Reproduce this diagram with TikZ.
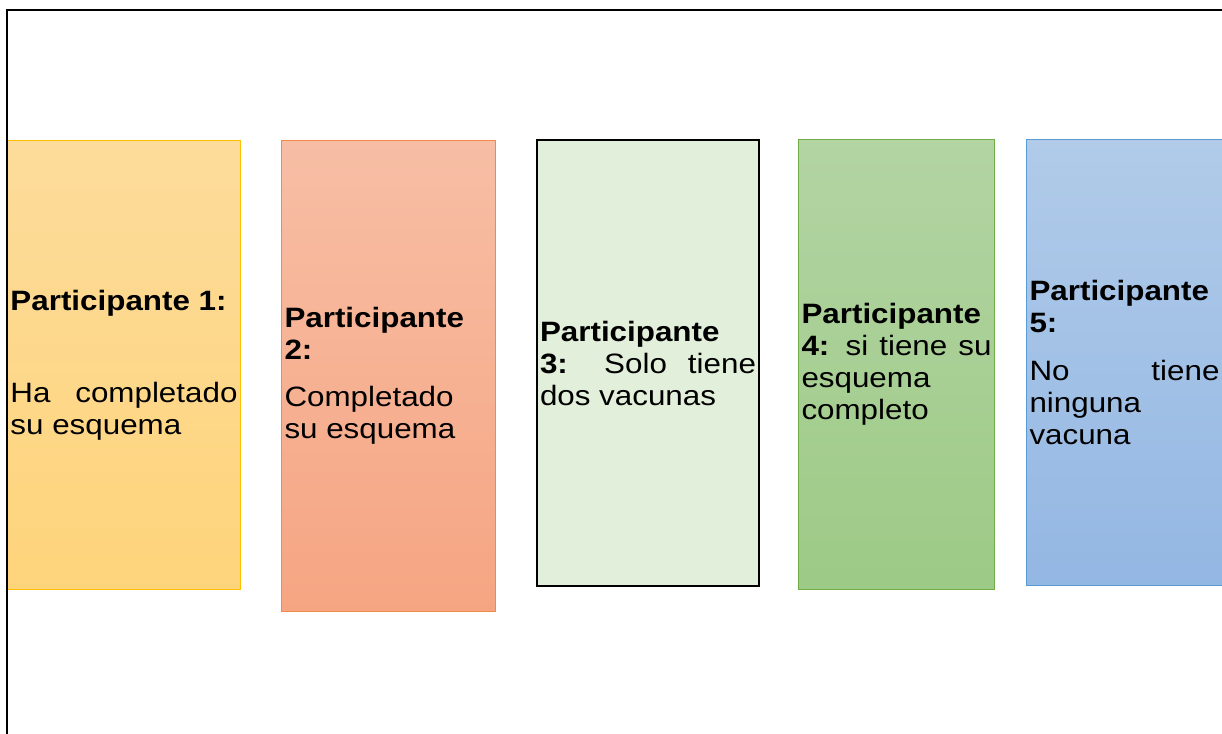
\documentclass[tikz,border=0pt]{standalone}
\usepackage{fontspec}
\setmainfont{Liberation Sans}[FakeStretch=1.12]
\definecolor{ytop}{HTML}{FDDC9B}
\definecolor{ybot}{HTML}{FED47B}
\definecolor{yline}{HTML}{FFC000}
\definecolor{otop}{HTML}{F7BEA5}
\definecolor{obot}{HTML}{F6A582}
\definecolor{oline}{HTML}{F08A4B}
\definecolor{lgfill}{HTML}{E2EFDA}
\definecolor{gtop}{HTML}{B3D4A3}
\definecolor{gbot}{HTML}{9DCA86}
\definecolor{gline}{HTML}{70AD47}
\definecolor{btop}{HTML}{B1CBE9}
\definecolor{bbot}{HTML}{93B7E3}
\definecolor{bline}{HTML}{5B9BD5}
\begin{document}
\begin{tikzpicture}[x=0.5pt,y=-0.5pt]
\tikzstyle{every node}+=[inner xsep=1.5pt,inner ysep=0pt,anchor=north west]
\tikzstyle{card}=[draw,line width=0.5pt,align=justify,font=\fontsize{14pt}{16pt}\selectfont]
\useasboundingbox (0,0) rectangle (1222,734);
\node[card,draw=yline,top color=ytop,bottom color=ybot,minimum width=116.5pt,minimum height=224.5pt,text width=113.5pt] (p1) at (7,140)
  {\textbf{Participante 1:}\par\vspace{30pt}Ha completado\linebreak su esquema};
\node[card,draw=oline,top color=otop,bottom color=obot,minimum width=107pt,minimum height=235.5pt,text width=104pt] (p2) at (281,140)
  {\textbf{Participante}\\\textbf{2:}\par\vspace{7.5pt}Completado\\su esquema};
\node[card,draw=black,line width=1pt,fill=lgfill,minimum width=111pt,minimum height=223pt,text width=108pt] (p3) at (536,139)
  {\textbf{Participante}\\\textbf{3:} Solo tiene\linebreak dos vacunas};
\node[card,draw=gline,top color=gtop,bottom color=gbot,minimum width=98pt,minimum height=225pt,text width=95pt] (p4) at (798,139)
  {\textbf{Participante}\\\textbf{4:} si tiene su\linebreak esquema\\completo};
\node[card,draw=bline,top color=btop,bottom color=bbot,minimum width=98pt,minimum height=223pt,text width=95pt] (p5) at (1026,139)
  {\textbf{Participante}\\\textbf{5:}\par\vspace{8pt}No tiene\linebreak ninguna\\vacuna};
\draw[line width=1pt] (1222,10) -- (7,10) -- (7,734);
\end{tikzpicture}
\end{document}
